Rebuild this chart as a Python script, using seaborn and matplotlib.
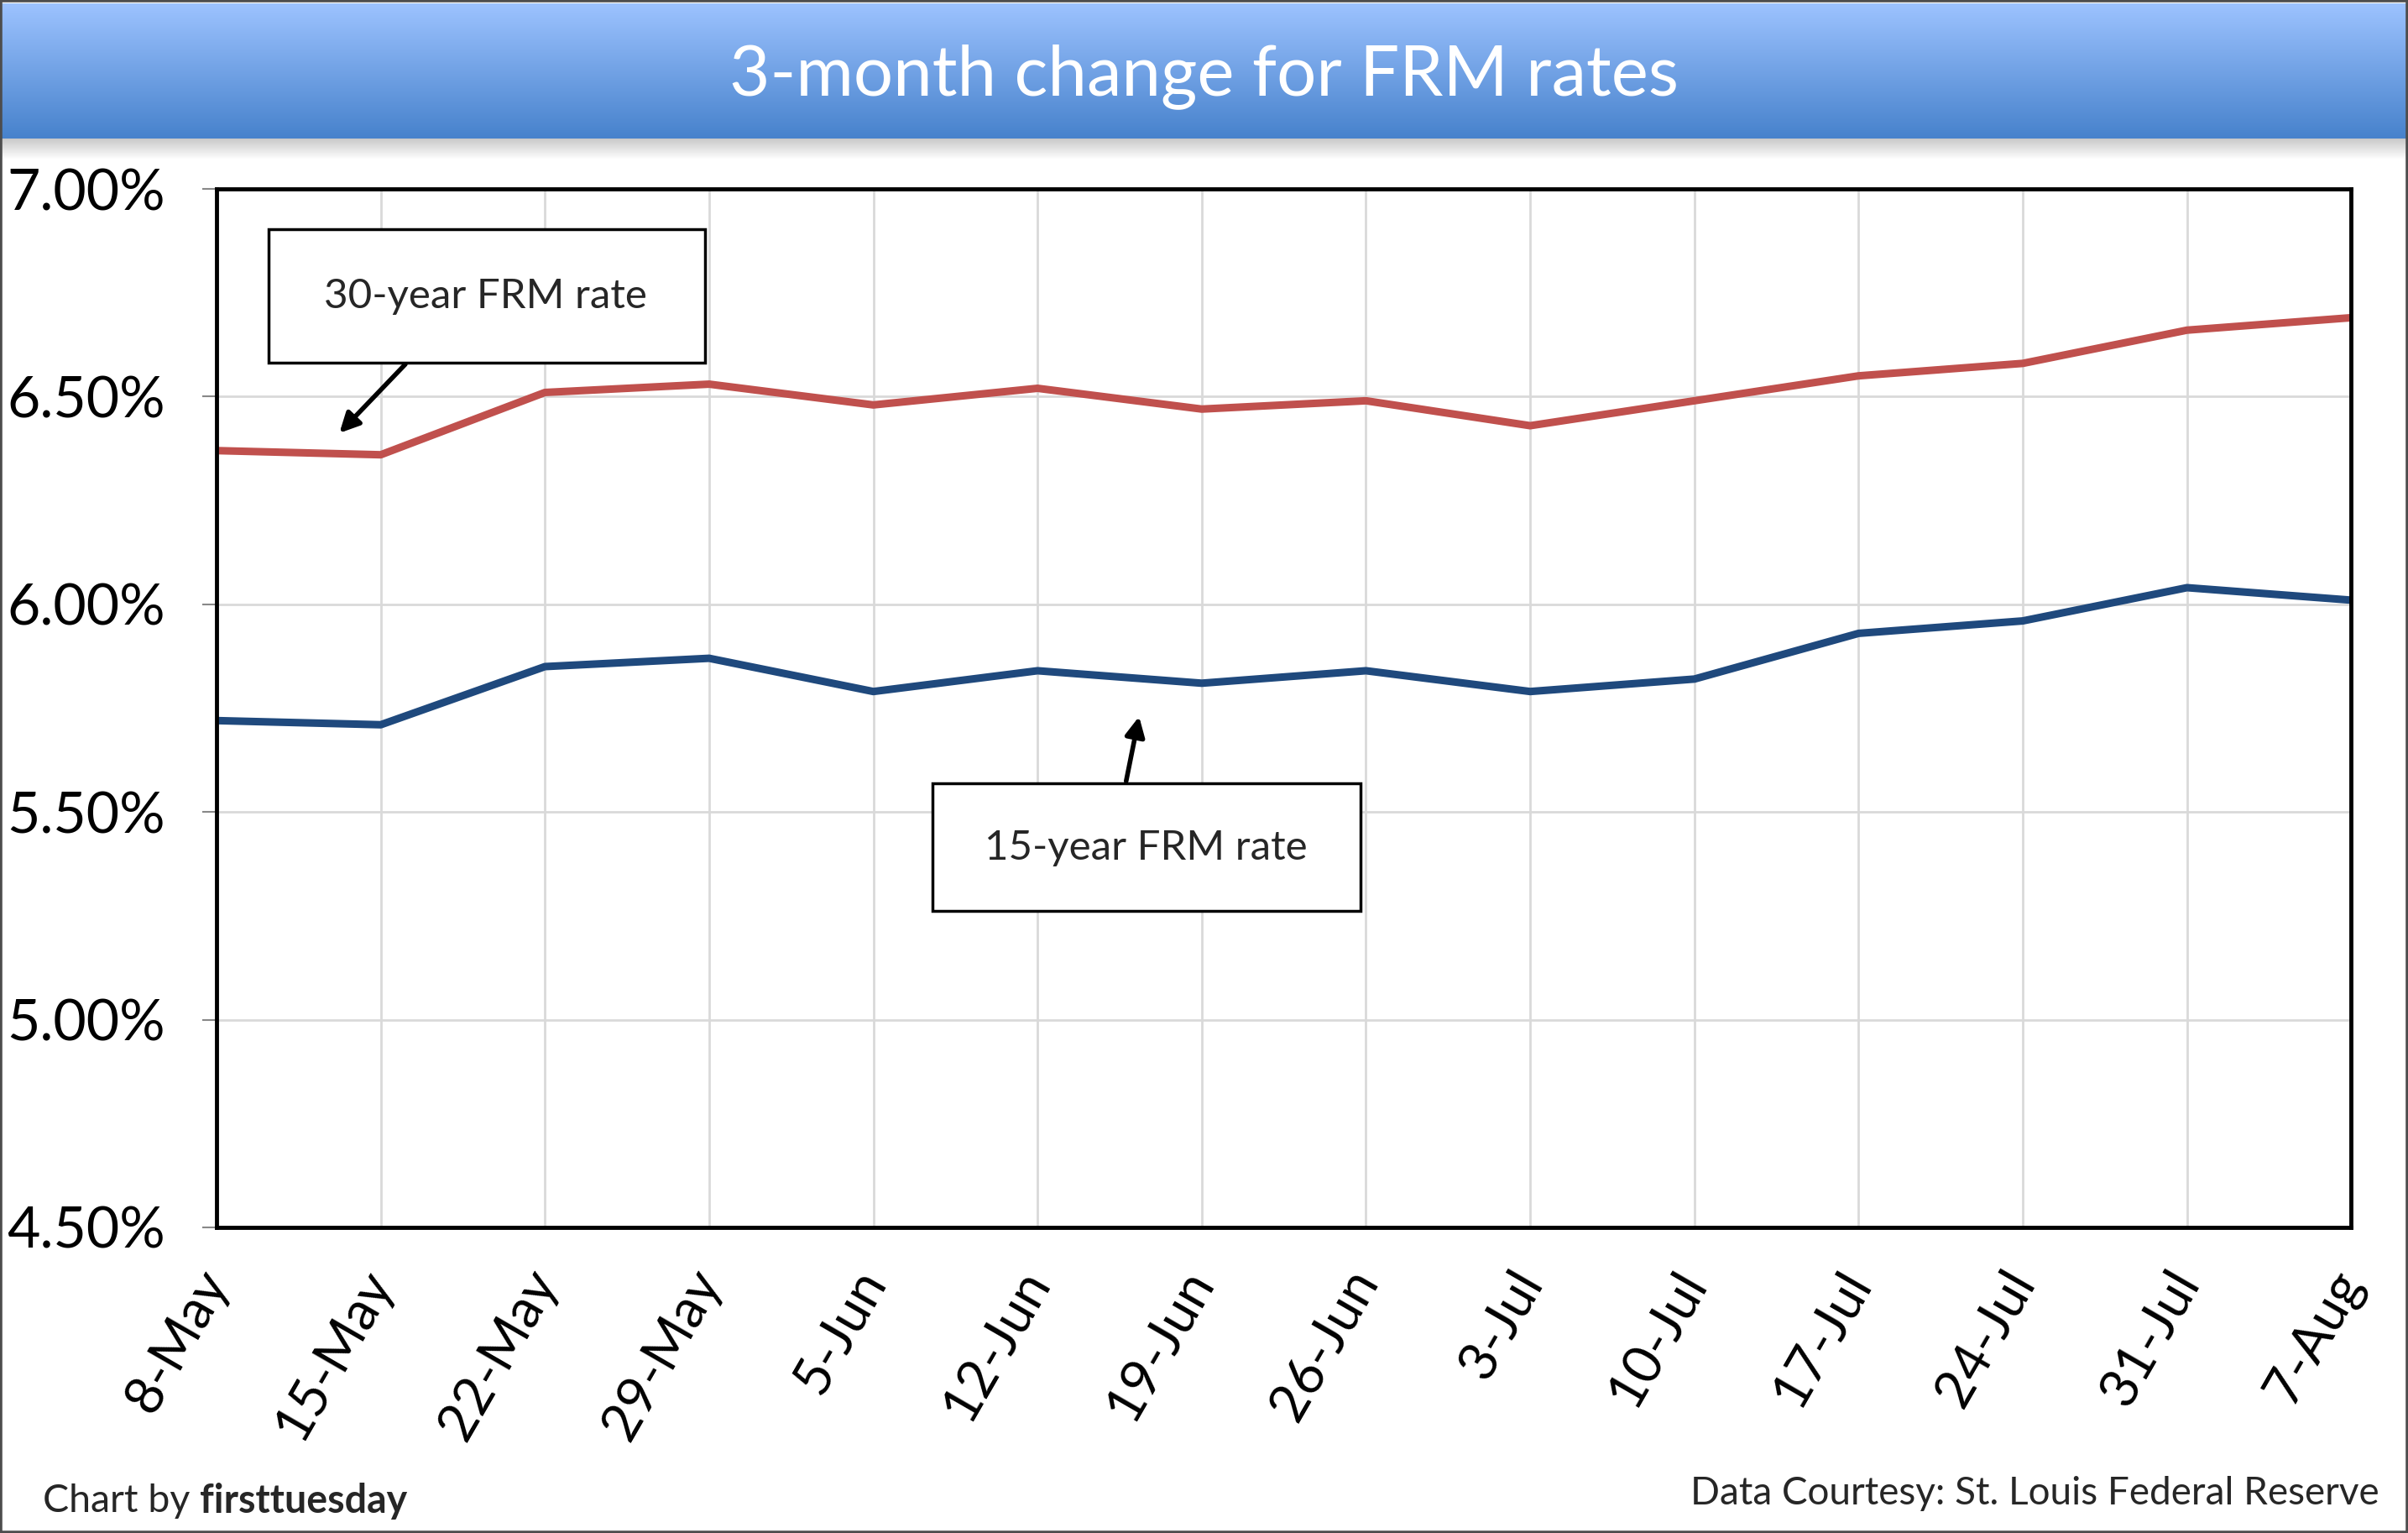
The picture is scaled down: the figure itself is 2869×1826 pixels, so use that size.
import numpy as np
import pandas as pd
import matplotlib
matplotlib.use("Agg")
import matplotlib.pyplot as plt
from matplotlib.patches import Rectangle
import seaborn as sns

weeks = ["8-May", "15-May", "22-May", "29-May", "5-Jun", "12-Jun", "19-Jun",
         "26-Jun", "3-Jul", "10-Jul", "17-Jul", "24-Jul", "31-Jul", "7-Aug"]
rate_30yr = [6.37, 6.36, 6.51, 6.53, 6.48, 6.52, 6.47, 6.49, 6.43, 6.49, 6.55, 6.58, 6.66, 6.69]
rate_15yr = [5.72, 5.71, 5.85, 5.87, 5.79, 5.84, 5.81, 5.84, 5.79, 5.82, 5.93, 5.96, 6.04, 6.01]
yticks = [4.5, 5.0, 5.5, 6.0, 6.5, 7.0]

df = pd.DataFrame({
    "week": list(range(len(weeks))) * 2,
    "rate": rate_30yr + rate_15yr,
    "series": ["30-year"] * len(weeks) + ["15-year"] * len(weeks),
})

sns.set_style("whitegrid")
plt.rcParams["font.family"] = ["Lato", "DejaVu Sans"]

fig = plt.figure(figsize=(28.69, 18.26), dpi=100)
fig.patch.set_facecolor("white")

# title banner with gradient
bax = fig.add_axes([0, 1 - 90 / 998, 1, 88 / 998])
top = np.array([0x9D, 0xC3, 0xFF]) / 255
bot = np.array([0x47, 0x82, 0xCC]) / 255
t = np.linspace(0, 1, 200)[:, None]
grad = top * (1 - t) + bot * t
bax.imshow(grad[:, None, :].repeat(2, axis=1), aspect="auto", extent=[0, 1, 0, 1])
bax.set_axis_off()
bax.text(0.5, 0.46, "3-month change for FRM rates", color="white", fontsize=60,
         ha="center", va="center", transform=bax.transAxes)

# soft shadow under banner
sax = fig.add_axes([0, 1 - 104 / 998, 1, 14 / 998])
s = np.linspace(0, 1, 50)[:, None]
shade = np.array([0.78, 0.78, 0.78]) * (1 - s) + np.array([1, 1, 1]) * s
sax.imshow(shade[:, None, :].repeat(2, axis=1), aspect="auto", extent=[0, 1, 0, 1])
sax.set_axis_off()

ax = fig.add_axes([141 / 1568, 1 - 799 / 998, 1390 / 1568, 676 / 998])
sns.lineplot(data=df, x="week", y="rate", hue="series",
             palette={"30-year": "#C0504D", "15-year": "#1F497D"},
             linewidth=6.5, legend=False, ax=ax)

ax.set_xlim(0, len(weeks) - 1)
ax.set_ylim(4.5, 7.0)
ax.set_xticks(range(len(weeks)))
ax.set_xticklabels(weeks, rotation=60, ha="right", va="center", rotation_mode="anchor")
ax.set_yticks(yticks)
ax.set_yticklabels([f"{v:.2f}%" for v in yticks])
ax.set_xlabel("")
ax.set_ylabel("")
ax.grid(True, color="#D9D9D9", linewidth=2)
for sp in ax.spines.values():
    sp.set_visible(True)
    sp.set_color("black")
    sp.set_linewidth(3.5)
ax.tick_params(axis="y", labelsize=49, length=12, width=1.5, color="#888888",
               pad=32, left=True, labelcolor="black")
ax.tick_params(axis="x", labelsize=46, length=0, pad=40, labelcolor="black")

# annotation boxes
arrow_style = "-|>,head_length=1.4,head_width=0.7"
ax.add_patch(Rectangle((0.0245, 0.8328), 0.2043, 0.1287, transform=ax.transAxes,
                       facecolor="white", edgecolor="black", linewidth=2.5, zorder=5))
ax.text(0.1259, 0.8964, "30-year FRM rate", transform=ax.transAxes, fontsize=35.5,
        ha="center", va="center", zorder=6)
ax.annotate("", xy=(0.0568, 0.7633), xytext=(0.0892, 0.8328),
            xycoords="axes fraction", textcoords="axes fraction",
            arrowprops=dict(arrowstyle=arrow_style, color="black", lw=4), zorder=6)

ax.add_patch(Rectangle((0.3353, 0.3047), 0.2007, 0.1228, transform=ax.transAxes,
                       facecolor="white", edgecolor="black", linewidth=2.5, zorder=5))
ax.text(0.4353, 0.3654, "15-year FRM rate", transform=ax.transAxes, fontsize=35.5,
        ha="center", va="center", zorder=6)
ax.annotate("", xy=(0.4324, 0.4941), xytext=(0.4259, 0.4275),
            xycoords="axes fraction", textcoords="axes fraction",
            arrowprops=dict(arrowstyle=arrow_style, color="black", lw=4), zorder=6)

# footer
t1 = fig.text(28 / 1568, 0.021, "Chart by ", fontsize=33.5, ha="left", va="center")
fig.canvas.draw()
bb = t1.get_window_extent(renderer=fig.canvas.get_renderer())
x_end = bb.x1 / fig.bbox.width
fig.text(x_end, 0.021, "firsttuesday", fontsize=33.5, fontweight="bold", ha="left", va="center")
fig.text(1549 / 1568, 0.026, "Data Courtesy: St. Louis Federal Reserve", fontsize=33,
         ha="right", va="center")

# outer frame
fig.patches.append(Rectangle((0, 0), 1, 1, transform=fig.transFigure, fill=False,
                             edgecolor="#4D4D4D", linewidth=4, zorder=10))

fig.savefig("out.png", dpi=100)
